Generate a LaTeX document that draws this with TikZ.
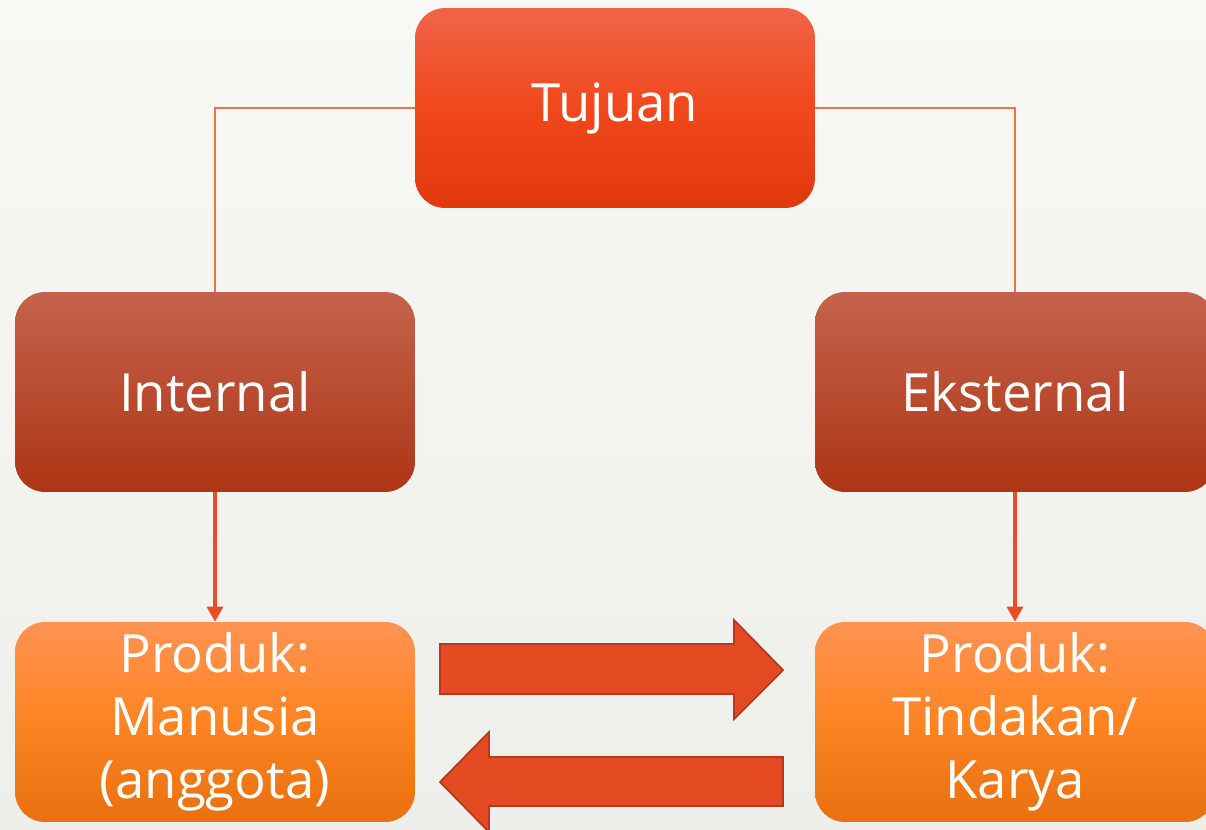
\documentclass[tikz,border=0pt]{standalone}
\usepackage{fontspec}
\setmainfont{Open Sans}
\usetikzlibrary{arrows.meta}

\definecolor{bgtop}{HTML}{F8F8F5}
\definecolor{bgbot}{HTML}{EEEEEA}
\definecolor{goaltop}{HTML}{EF6548}
\definecolor{goalmid}{HTML}{F0481C}
\definecolor{goalbot}{HTML}{E1390D}
\definecolor{sidetop}{HTML}{C4634D}
\definecolor{sidebot}{HTML}{AE3514}
\definecolor{prodtop}{HTML}{FF9352}
\definecolor{prodmid}{HTML}{FD8422}
\definecolor{prodbot}{HTML}{E9700E}
\definecolor{linkred}{HTML}{EE7050}
\definecolor{arrowred}{HTML}{E84E24}
\definecolor{blockfill}{HTML}{E54B22}
\definecolor{blockedge}{HTML}{B5391A}

\tikzset{
  box/.style = {rounded corners = 0.6cm, minimum width = 8cm, minimum height = 4cm,
                text = white, align = center, font = \fontsize{30}{36}\selectfont, inner sep = 0pt},
  goalbox/.style = {box, top color = goaltop, bottom color = goalbot, middle color = goalmid},
  sidebox/.style = {box, top color = sidetop, bottom color = sidebot},
  prodbox/.style = {box, top color = prodtop, bottom color = prodbot, middle color = prodmid},
  link/.style = {linkred, line width = 1.2pt},
  down/.style = {arrowred, line width = 1.8pt, -{Triangle[length = 0.3cm, width = 0.32cm]}},
  block/.style = {fill = blockfill, draw = blockedge, line width = 1pt}
}

\begin{document}
\begin{tikzpicture}[x = 0.02cm, y = -0.02cm]
        \useasboundingbox (0,0) rectangle (1206,829);
        \fill [top color = bgtop, bottom color = bgbot] (0,0) rectangle (1206,829);

        \node [goalbox] (tujuan) at (615,108) {Tujuan};
        \node [sidebox] (internal) at (215,392) {Internal};
        \node [sidebox] (eksternal) at (1015,392) {Eksternal};
        \node [prodbox] (manusia) at (215,722) {Produk:\\Manusia\\(anggota)};
        \node [prodbox] (karya) at (1015,722) {Produk:\\Tindakan/\\Karya};

        \draw [link] (tujuan.west) -| (internal.north);
        \draw [link] (tujuan.east) -| (eksternal.north);

        \draw [down] (internal.south) -- (manusia.north);
        \draw [down] (eksternal.south) -- (karya.north);

        \draw [block] (440,644) -- (734,644) -- (734,620) -- (783,670) -- (734,719) -- (734,694) -- (440,694) -- cycle;
        \draw [block] (783,757) -- (489,757) -- (489,732) -- (440,782) -- (489,832) -- (489,806) -- (783,806) -- cycle;
\end{tikzpicture}
\end{document}
